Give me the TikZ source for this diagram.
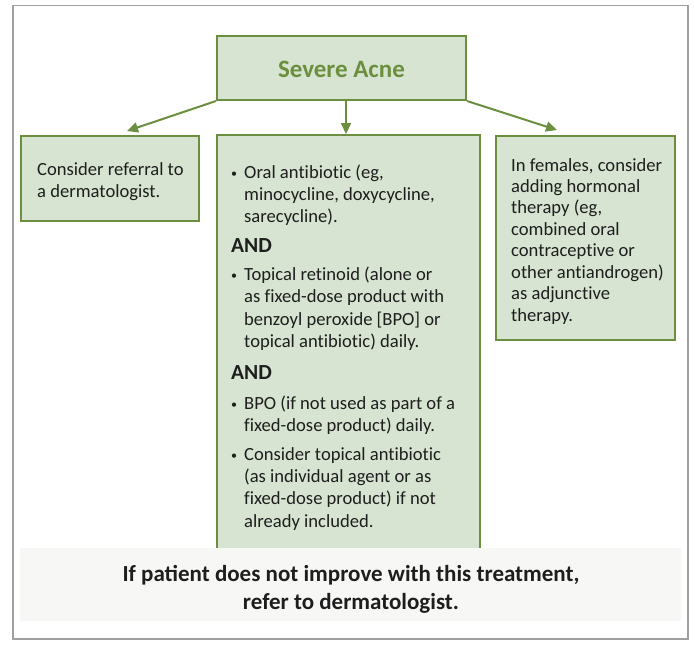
\documentclass[tikz,border=0pt]{standalone}
\usepackage{fontspec}
\setmainfont{Carlito}
\newfontfamily\bodyfont[Ligatures=NoCommon]{Carlito}
\usetikzlibrary{arrows.meta}
\definecolor{grn}{RGB}{107,143,62}
\definecolor{grnfill}{RGB}{215,228,209}
\definecolor{frame}{RGB}{160,160,160}
\definecolor{band}{RGB}{247,247,245}
\definecolor{ink}{RGB}{30,30,30}
\newcommand{\bfont}{\bodyfont\fontsize{18.6}{22}\selectfont}
\newcommand{\bul}{\makebox[13pt][l]{\raisebox{0.5pt}{\fontsize{12}{12}\selectfont\textbullet}}}
\tikzset{
  box/.style={draw=grn, fill=grnfill, line width=2pt, inner sep=0pt},
  body/.style={font=\bfont, align=left, inner sep=0pt, anchor=base west, text=ink},
  andtxt/.style={font=\fontsize{21.5}{24}\selectfont\bfseries, inner sep=0pt, anchor=base west, text=ink},
  conn/.style={draw=grn, line width=2pt, -{Triangle[length=11pt,width=10pt]}},
}
\begin{document}
\begin{tikzpicture}[x=1pt,y=-1pt]
\useasboundingbox (0,0) rectangle (695,646);
% outer frame
\draw[frame, line width=1.5pt] (13,5.5) rectangle (688,639);
% boxes
\node[box, minimum width=249pt, minimum height=64pt] (top) at (341.5,68) {};
\node[font=\fontsize{25}{28}\selectfont\bfseries, text=grn] (title) at (341.5,69) {Severe Acne};
\node[box, minimum width=178pt, minimum height=85pt] (left) at (110,178.5) {};
\node[box, minimum width=263pt, minimum height=430pt] (mid) at (348.5,350) {};
\node[box, minimum width=179pt, minimum height=204pt] (right) at (585.5,238) {};
% connectors
\coordinate (lt) at (127,131);
\coordinate (rt) at (557,130);
\coordinate (mt) at (346,134);
\draw[conn] (top.south west) -- (lt);
\draw[conn] (346,100) -- (mt);
\draw[conn] (top.south east) -- (rt);
% left text
\node[body] (ltext) at (37,175) {\def\arraystretch{1.03}\begin{tabular}[t]{@{}l@{}}Consider referral to\\a dermatologist.\end{tabular}};
% right text
\node[body] (rtext) at (511,171) {\def\arraystretch{0.975}\begin{tabular}[t]{@{}l@{}}In females, consider\\adding hormonal\\therapy (eg,\\combined oral\\contraceptive or\\other antiandrogen)\\as adjunctive\\therapy.\end{tabular}};
% middle text
\node[body] (t1) at (231,178) {\bul\begin{tabular}[t]{@{}l@{}}Oral antibiotic (eg,\\minocycline, doxycycline,\\sarecycline).\end{tabular}};
\node[andtxt] (a1) at (231,252) {AND};
\node[body] (t2) at (231,280) {\bul\def\arraystretch{1.03}\begin{tabular}[t]{@{}l@{}}Topical retinoid (alone or\\as fixed-dose product with\\benzoyl peroxide [BPO] or\\topical antibiotic) daily.\end{tabular}};
\node[andtxt] (a2) at (231,379) {AND};
\node[body] (t3) at (231,409) {\bul\begin{tabular}[t]{@{}l@{}}BPO (if not used as part of a\\fixed-dose product) daily.\end{tabular}};
\node[body] (t4) at (231,460) {\bul\def\arraystretch{1.02}\begin{tabular}[t]{@{}l@{}}Consider topical antibiotic\\(as individual agent or as\\fixed-dose product) if not\\already included.\end{tabular}};
% bottom band
\fill[band] (20,548) rectangle (681,621);
\node[font=\fontsize{23}{28}\selectfont\bfseries, align=center, text=ink, inner sep=0pt] (bottom) at (351,589) {If patient does not improve with this treatment,\\refer to dermatologist.};
\end{tikzpicture}
\end{document}
